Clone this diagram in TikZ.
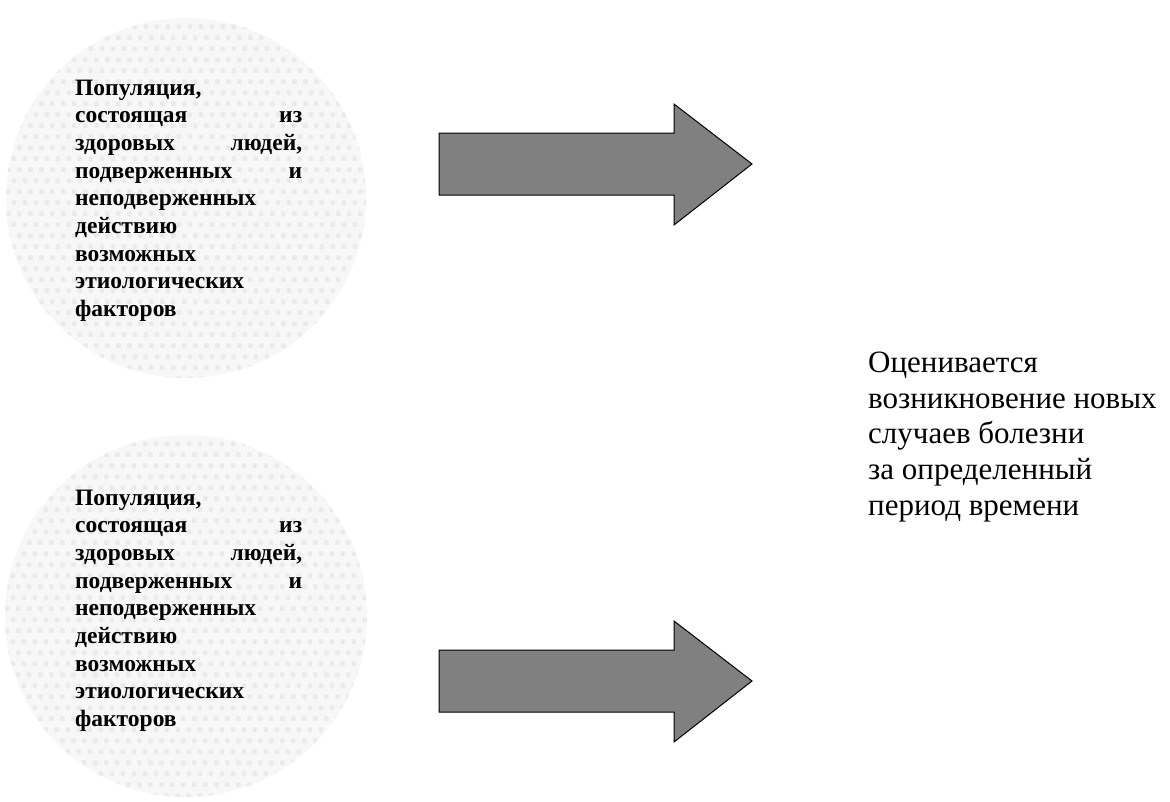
\documentclass[tikz,border=0pt]{standalone}
\usepackage{fontspec}
\setmainfont{Liberation Serif}
\definecolor{dotgray}{HTML}{EAEAEA}
\definecolor{arrowgray}{HTML}{808080}
\tikzset{
  % round population field filled with a soft square-dot texture
  popcircle/.style={circle, inner sep=0pt, minimum size=#1,
    path picture={
      \fill[white!97!black] (path picture bounding box.north west)
        rectangle (path picture bounding box.south east);
      \foreach \r in {0,...,34}{
        \foreach \c in {0,...,34}{
          \fill[dotgray, rounded corners=0.8pt]
            ([shift={({\c*11+mod(\r,2)*5.5},{\r*11})}]path picture bounding box.north west)
            rectangle +(4.6,-4.6);
        }
      }
    }},
  poptext/.style={font=\bfseries\fontsize{23.5}{27.7}\selectfont,
    text width=227pt, align=left, inner sep=0pt, anchor=north west},
  notetext/.style={font=\fontsize{31}{35.6}\selectfont,
    align=left, inner sep=0pt, anchor=north west},
  blockarrow/.style={fill=arrowgray, draw=black, line width=1pt, line join=miter}
}
\begin{document}
\begin{tikzpicture}[x=1pt, y=-1pt]
  \useasboundingbox (0,0) rectangle (1170,801);
  \fill[white] (0,0) rectangle (1170,801);

  % two population groups
  \node[popcircle=360] (popA) at (186,198) {};
  \node[popcircle=362] (popB) at (186,616) {};

  \node[poptext] (textA) at (75,79.5) {%
    Популяция,\\
    состоящая\hfill из\\
    здоровых\hfill людей,\\
    подверженных\hfill и\\
    неподверженных\\
    действию\\
    возможных\\
    этиологических\\
    факторов};
  \node[poptext] (textB) at (75,489.5) {%
    Популяция,\\
    состоящая\hfill из\\
    здоровых\hfill людей,\\
    подверженных\hfill и\\
    неподверженных\\
    действию\\
    возможных\\
    этиологических\\
    факторов};

  % block arrows pointing forward in time
  \foreach \dy in {0,517}{
    \draw[blockarrow] (439,133+\dy) -- (674,133+\dy) -- (674,104+\dy)
      -- (752,164+\dy) -- (674,225+\dy) -- (674,195+\dy) -- (439,195+\dy) -- cycle;
  }

  % outcome note
  \node[notetext] (outcome) at (868,352) {%
    Оценивается\\
    возникновение новых\\
    случаев болезни\\
    за определенный\\
    период времени};
\end{tikzpicture}
\end{document}
